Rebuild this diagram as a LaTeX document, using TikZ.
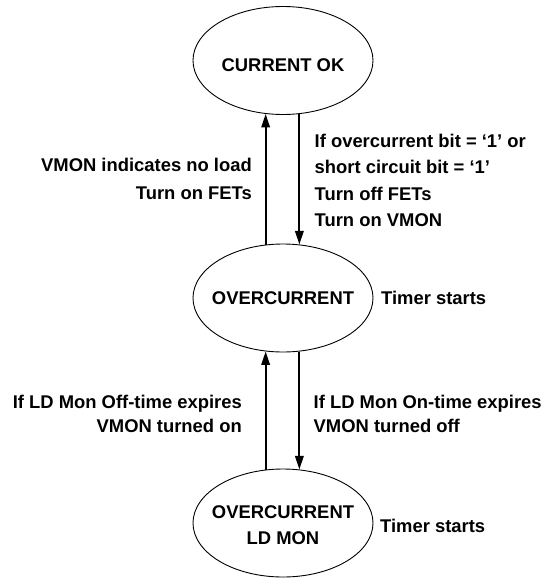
\documentclass[tikz,border=0pt]{standalone}
\usepackage{fontspec}
\setmainfont{Liberation Sans}
\usetikzlibrary{shapes.geometric,arrows.meta}
\begin{document}
\begin{tikzpicture}[x=1pt,y=-1pt,
  state/.style={ellipse,draw,line width=0.9pt,minimum width=180pt,minimum height=108pt,inner sep=0pt},
  txt/.style={font=\bfseries\fontsize{18.4}{26.3}\selectfont,inner sep=0pt},
  conn/.style={line width=1.8pt,-{Triangle[length=13.5pt,width=8.5pt]}}]
\useasboundingbox (0,0) rectangle (543,578);
\node[state,label={[txt,yshift=-5pt]center:CURRENT OK}] (ok) at (283,60.5) {};
\node[state,label={[txt]center:OVERCURRENT}] (oc) at (283,298) {};
\node[state,label={[txt,align=center,yshift=-2.4pt]center:OVERCURRENT\\LD MON}] (ld) at (283,523) {};
\draw[conn] (oc.108.8) -- (ok.-108.8);
\draw[conn] (ok.-73.76) -- (oc.73.76);
\draw[conn] (ld.108.8) -- (oc.-108.8);
\draw[conn] (oc.-73.76) -- (ld.73.76);
\node[txt,font=\bfseries\fontsize{18.4}{27.3}\selectfont,align=right,anchor=base east] (t1) at (252,199) {VMON indicates no load\\Turn on FETs};
\node[txt,align=left,anchor=base west] (t2) at (314.5,226.3) {If overcurrent bit = ‘1’ or\\short circuit bit = ‘1’\\Turn off FETs\\Turn on VMON};
\node[txt,anchor=base west] (t3) at (381,304.3) {Timer starts};
\node[txt,font=\bfseries\fontsize{18.4}{24}\selectfont,align=right,anchor=base east] (t4) at (242,432.7) {If LD Mon Off-time expires\\VMON turned on};
\node[txt,font=\bfseries\fontsize{18.4}{24}\selectfont,align=left,anchor=base west] (t5) at (313.5,432.7) {If LD Mon On-time expires\\VMON turned off};
\node[txt,anchor=base west] (t6) at (380,532.7) {Timer starts};
\end{tikzpicture}
\end{document}
